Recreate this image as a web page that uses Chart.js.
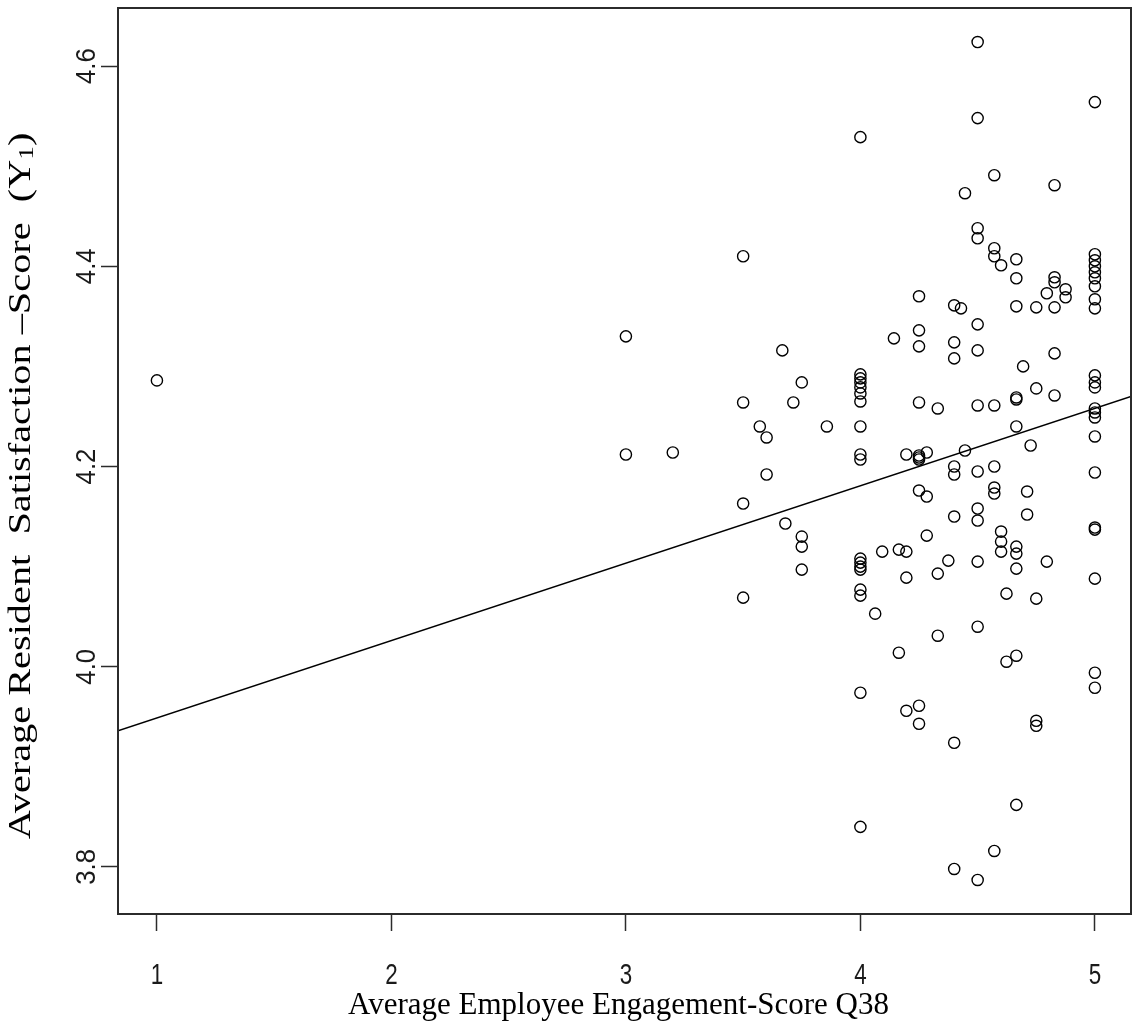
<!DOCTYPE html>
<html>
<head>
<meta charset="utf-8">
<title>Engagement vs. Resident Satisfaction</title>
<script src="https://cdn.jsdelivr.net/npm/chart.js@4.4.1/dist/chart.umd.min.js"></script>
<style>
  html, body { margin: 0; padding: 0; background: #fff; }
  #wrap { width: 1134px; height: 1036px; position: relative; }
</style>
</head>
<body>
<div id="wrap"><canvas id="chart" width="1134" height="1036"></canvas></div>
<script>
// Engagement score levels (x) and the resident satisfaction scores observed at each level (y)
const engagementLevels = [
  1, 3, 3.2, 3.5, 3.571, 3.6, 3.667, 3.68, 3.714, 3.75, 3.857,
  4, 4.063, 4.093, 4.143, 4.164, 4.196, 4.25, 4.283, 4.33, 4.375,
  4.4, 4.429, 4.446, 4.5, 4.571, 4.6, 4.623, 4.665, 4.694, 4.711,
  4.726, 4.75, 4.795, 4.828, 4.875, 5
];
const satisfactionByLevel = [
  [4.286],
  [4.330, 4.212],
  [4.214],
  [4.410, 4.264, 4.163, 4.069],
  [4.240],
  [4.229, 4.192],
  [4.316],
  [4.143],
  [4.264],
  [4.284, 4.130, 4.120, 4.097],
  [4.240],
  [4.529, 4.292, 4.288, 4.284, 4.279, 4.273, 4.265, 4.240, 4.212, 4.207,
   4.108, 4.104, 4.100, 4.097, 4.077, 4.071, 3.974, 3.840],
  [4.053],
  [4.115],
  [4.328],
  [4.117, 4.014],
  [4.212, 4.115, 4.089, 3.956],
  [4.370, 4.336, 4.320, 4.264, 4.211, 4.209, 4.207, 4.176, 3.961, 3.943],
  [4.214, 4.170, 4.131],
  [4.258, 4.093, 4.031],
  [4.106],
  [4.361, 4.324, 4.308, 4.200, 4.192, 4.150, 3.924, 3.798],
  [4.358],
  [4.473, 4.216],
  [4.624, 4.548, 4.438, 4.428, 4.342, 4.316, 4.261, 4.195, 4.158, 4.146, 4.105, 4.040, 3.787],
  [4.491, 4.418, 4.410, 4.261, 4.200, 4.179, 4.173, 3.816],
  [4.401, 4.135, 4.125, 4.115],
  [4.073, 4.005],
  [4.407, 4.388, 4.360, 4.269, 4.267, 4.240, 4.120, 4.113, 4.098, 4.011, 3.862],
  [4.300],
  [4.175, 4.152],
  [4.221],
  [4.359, 4.278, 4.068, 3.946, 3.941],
  [4.373, 4.105],
  [4.481, 4.389, 4.384, 4.359, 4.313, 4.271],
  [4.377, 4.369],
  [4.564, 4.412, 4.406, 4.400, 4.394, 4.388, 4.380, 4.367, 4.358, 4.291, 4.284, 4.279,
   4.258, 4.254, 4.249, 4.230, 4.194, 4.139, 4.137, 4.088, 3.994, 3.979]
];

// Least-squares fit line, given by its two end points across the plot range
const fitLineX = [0.834, 5.154];
const fitLineY = [3.936, 4.270];

// Axis ticks and labels
const xTickValues = [1, 2, 3, 4, 5];
const xTickLabels = ['1', '2', '3', '4', '5'];
const yTickValues = [3.8, 4.0, 4.2, 4.4, 4.6];
const yTickLabels = ['3.8', '4.0', '4.2', '4.4', '4.6'];
const xRange = [0.834, 5.154];
const yRange = [3.753, 4.658];

const xTitle = 'Average Employee Engagement-Score Q38';
const yTitleMain = 'Average Resident  Satisfaction \u2013Score  (Y';
const yTitleSub = '1';
const yTitleEnd = ')';

const points = [];
engagementLevels.forEach((x, i) => {
  satisfactionByLevel[i].forEach(y => points.push({ x, y }));
});
const fitPoints = fitLineX.map((x, i) => ({ x, y: fitLineY[i] }));

const INK = '#000';
const FRAME = '#2b2b2b';
const TICK_FONT = '"Liberation Sans Narrow", "Liberation Sans", Arial, sans-serif';
const TITLE_FONT = '"Liberation Serif", "Times New Roman", serif';

// Frame, tick labels and axis titles drawn in base-graphics style
const axisDecor = {
  id: 'axisDecor',
  afterDraw(chart) {
    const { ctx, chartArea: a, scales: { x, y } } = chart;
    ctx.save();
    ctx.strokeStyle = FRAME;
    ctx.lineWidth = 2;
    ctx.strokeRect(a.left, a.top, a.right - a.left, a.bottom - a.top);

    ctx.fillStyle = '#1a1a1a';
    ctx.font = '28px ' + TICK_FONT;
    ctx.textAlign = 'center';
    ctx.textBaseline = 'middle';
    xTickValues.forEach((v, i) => {
      ctx.save();
      ctx.translate(x.getPixelForValue(v), a.bottom + 62);
      ctx.scale(0.8, 1.08);
      ctx.fillText(xTickLabels[i], 0, 0);
      ctx.restore();
    });
    yTickValues.forEach((v, i) => {
      ctx.save();
      ctx.translate(a.left - 31, y.getPixelForValue(v));
      ctx.rotate(-Math.PI / 2);
      ctx.scale(0.92, 1);
      ctx.fillText(yTickLabels[i], 0, 0);
      ctx.restore();
    });

    ctx.fillStyle = INK;
    ctx.font = '31px ' + TITLE_FONT;
    ctx.fillText(xTitle, (a.left + a.right) / 2 - 6, a.bottom + 92);

    // y title with subscript, reading bottom to top, drawn stretched along its length
    ctx.save();
    ctx.translate(a.left - 96, (a.top + a.bottom) / 2 + 25);
    ctx.rotate(-Math.PI / 2);
    ctx.scale(1.3, 1);
    const subFont = '21px ' + TITLE_FONT;
    const mainW = ctx.measureText(yTitleMain).width;
    const endW = ctx.measureText(yTitleEnd).width;
    ctx.font = subFont;
    const subW = ctx.measureText(yTitleSub).width;
    const total = mainW + subW + endW;
    let cx = -total / 2;
    ctx.textAlign = 'left';
    ctx.font = '31px ' + TITLE_FONT;
    ctx.fillText(yTitleMain, cx, 0);
    cx += mainW;
    ctx.font = subFont;
    ctx.fillText(yTitleSub, cx, 5);
    cx += subW;
    ctx.font = '31px ' + TITLE_FONT;
    ctx.fillText(yTitleEnd, cx, 0);
    ctx.restore();

    ctx.restore();
  }
};

const tickGrid = {
  display: true,
  drawOnChartArea: false,
  drawTicks: true,
  tickLength: 17,
  tickWidth: 1.5,
  tickColor: FRAME,
  color: FRAME
};

new Chart(document.getElementById('chart'), {
  type: 'scatter',
  data: {
    datasets: [
      {
        label: 'Residents',
        data: points,
        pointStyle: 'circle',
        pointRadius: 5.6,
        pointHoverRadius: 5.6,
        borderWidth: 1.4,
        borderColor: INK,
        backgroundColor: 'rgba(0,0,0,0)'
      },
      {
        label: 'Fit',
        type: 'line',
        data: fitPoints,
        borderColor: INK,
        borderWidth: 1.4,
        pointRadius: 0,
        fill: false,
        tension: 0
      }
    ]
  },
  options: {
    responsive: false,
    animation: false,
    events: [],
    layout: { autoPadding: false, padding: { top: 8, right: 3, left: 0, bottom: 0 } },
    plugins: { legend: { display: false }, tooltip: { enabled: false } },
    scales: {
      x: {
        type: 'linear',
        min: xRange[0],
        max: xRange[1],
        afterBuildTicks: s => { s.ticks = xTickValues.map(v => ({ value: v })); },
        afterFit: s => { s.height = 122; },
        ticks: { display: false },
        grid: tickGrid,
        border: { display: false }
      },
      y: {
        type: 'linear',
        min: yRange[0],
        max: yRange[1],
        afterBuildTicks: s => { s.ticks = yTickValues.map(v => ({ value: v })); },
        afterFit: s => { s.width = 118; },
        ticks: { display: false },
        grid: tickGrid,
        border: { display: false }
      }
    }
  },
  plugins: [axisDecor]
});
</script>
</body>
</html>
